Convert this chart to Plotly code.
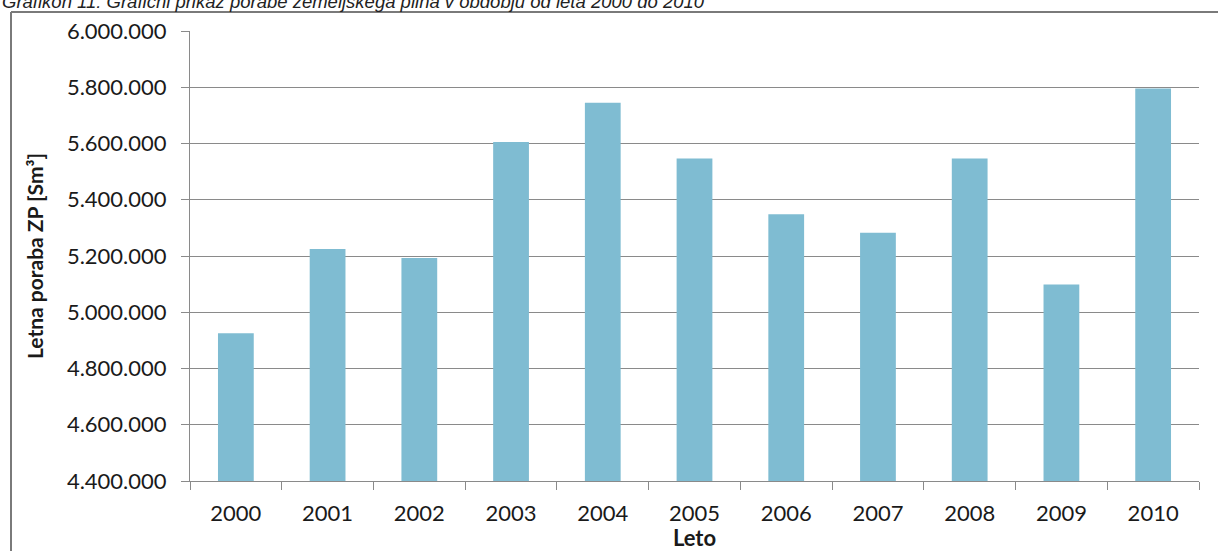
import plotly.graph_objects as go

years = ["2000", "2001", "2002", "2003", "2004", "2005", "2006", "2007", "2008", "2009", "2010"]
consumption = [4925000, 5225000, 5193000, 5605000, 5745000, 5547000, 5348000, 5283000, 5547000, 5099000, 5796000]
y_ticks = [4400000, 4600000, 4800000, 5000000, 5200000, 5400000, 5600000, 5800000, 6000000]

title_text = "Grafikon 11: Grafični prikaz porabe zemeljskega plina v obdobju od leta 2000 do 2010"
y_title = "Letna poraba ZP [Sm³]"
x_title = "Leto"

W, H = 1218, 551
ml, mr, mt, mb = 190, 19, 31, 70
pw = W - ml - mr
ph = H - mt - mb

def px_x(p):
    return (p - ml) / pw

def px_y(p):
    return 1 - (p - mt) / ph

fig = go.Figure()
fig.add_trace(go.Bar(
    x=years, y=consumption,
    marker=dict(color="#7fbcd2", line=dict(width=0)),
))

grid_col = "#8a8a8a"
tick_font = dict(family="Lato, Open Sans, sans-serif", size=22, color="#1a1a1a")

fig.update_layout(
    width=W, height=H,
    margin=dict(l=ml, r=mr, t=mt, b=mb, pad=0, autoexpand=False),
    paper_bgcolor="white", plot_bgcolor="white",
    separators=",.",
    bargap=0.61,
    showlegend=False,
    xaxis=dict(
        type="category",
        automargin=False,
        tickfont=tick_font,
        ticks="outside", ticklen=8, tickcolor=grid_col, tickson="boundaries",
        ticklabelstandoff=13,
        showline=True, linecolor=grid_col, linewidth=1,
        showgrid=False,
        title=dict(text="<b>" + x_title + "</b>", font=dict(family="Lato, sans-serif", size=22, color="#1a1a1a"), standoff=7),
    ),
    yaxis=dict(
        automargin=False,
        range=[4400000, 6000000],
        tickvals=y_ticks,
        tickformat=",d",
        tickfont=tick_font,
        ticks="outside", ticklen=8, tickcolor=grid_col,
        ticklabelstandoff=10,
        showline=True, linecolor=grid_col, linewidth=1,
        showgrid=True, gridcolor=grid_col, gridwidth=1,
        zeroline=False,
        title=dict(text="<b>" + y_title + "</b>", font=dict(family="Lato, sans-serif", size=21, color="#1a1a1a"), standoff=17),
    ),
)

# outer frame (top and left edges visible)
fig.add_shape(type="line", xref="paper", yref="paper",
              x0=px_x(11), x1=px_x(W + 5), y0=px_y(12), y1=px_y(12),
              line=dict(color="#7a7a7a", width=2))
fig.add_shape(type="line", xref="paper", yref="paper",
              x0=px_x(11), x1=px_x(11), y0=px_y(12), y1=px_y(H + 5),
              line=dict(color="#7a7a7a", width=2))

fig.add_annotation(
    xref="paper", yref="paper", x=px_x(0), y=px_y(14),
    xanchor="left", yanchor="bottom", showarrow=False,
    text="<i>" + title_text + "</i>",
    font=dict(family="Liberation Sans, Arial, sans-serif", size=18.5, color="#222222"),
)

fig.write_html("out.html")
